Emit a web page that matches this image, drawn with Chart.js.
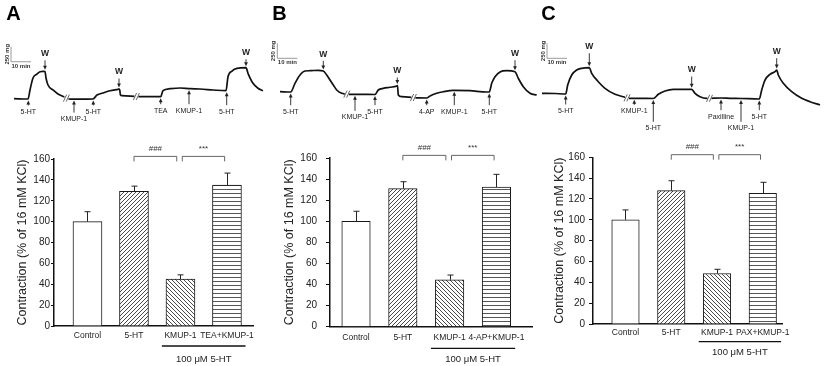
<!DOCTYPE html>
<html><head><meta charset="utf-8">
<script src="https://cdn.jsdelivr.net/npm/chart.js@4.4.1/dist/chart.umd.min.js"></script>
<style>
html,body{margin:0;padding:0;background:#fff;}
#wrap{position:relative;width:825px;height:366px;overflow:hidden;background:#fff;}
canvas{position:absolute;}
</style></head><body>
<div id="wrap">
<canvas id="tA" width="270" height="140" style="left:0;top:0"></canvas>
<canvas id="tB" width="270" height="140" style="left:270px;top:0"></canvas>
<canvas id="tC" width="285" height="140" style="left:540px;top:0"></canvas>
<canvas id="bA" width="270" height="226" style="left:0;top:140px"></canvas>
<canvas id="bB" width="270" height="226" style="left:270px;top:140px"></canvas>
<canvas id="bC" width="285" height="226" style="left:540px;top:140px"></canvas>
</div>
<script>
// ---------------- DATA ----------------
// Bar charts (contraction, % of 16 mM KCl; mean and SEM)
const categoriesA = ['Control', '5-HT', 'KMUP-1', 'TEA+KMUP-1'];
const categoriesB = ['Control', '5-HT', 'KMUP-1', '4-AP+KMUP-1'];
const categoriesC = ['Control', '5-HT', 'KMUP-1', 'PAX+KMUP-1'];
const contractionA = [100, 129, 45, 135];
const contractionB = [100, 131, 44.5, 132.5];
const contractionC = [100, 128, 48.5, 125.5];
const semA = [9.5, 5, 4, 11.5];
const semB = [9.5, 6.5, 4.5, 12];
const semC = [9.5, 9.5, 4, 10.5];
const yTicks = [0, 20, 40, 60, 80, 100, 120, 140, 160];
const yTitle = 'Contraction (% of 16 mM KCl)';
const groupLabel = '100 \u03bcM 5-HT';
const sigLabels = ['###', '***'];

// Tension traces (time in min, tension in mg; null = break in recording)
const traceA_time = [7,14,15,16.5,18.5,20,21.5,22.5,23,24,26.5,29,32.5,33.2,33.75,40,46.5,48.5,51.5,55,59,59.75,60.25,61,67.5,68.2,69,75,80.35,81.5,85,90,95,100,106.5,113,114,116,118.5,123,124,126.5,129,131.5];
const traceA_mg   = [522,517,667,867,933,972,978,975,867,750,667,600,545,null,517,513,517,583,617,655,678,683,583,572,562,null,555,555,555,655,688,700,688,683,667,655,888,983,1028,1038,945,778,695,655];
const traceB_time = [5,10.35,12.5,15,17.5,20,24,26.65,28.35,30,31.65,33.35,35.85,37.75,38.4,39,45,52.5,54.15,56.65,60,63.35,63.75,64.15,65.85,71,71.7,72.5,78.35,80,83.35,86.65,91.65,100,108.35,109.65,110.85,112.5,115,118.35,122.5,124.15,126.65,130,133.35];
const traceB_mg   = [638,633,778,917,983,988,995,983,917,833,750,667,612,600,null,595,595,592,667,695,712,733,742,583,555,545,null,537,533,567,612,638,662,655,633,633,778,888,967,988,972,862,722,612,583];
const traceC_time = [1,7.5,12.85,13.85,15.85,18.35,20.85,24.65,25.85,29.15,32.5,37.5,41.65,43,43.5,44,50,56.65,59.15,62.5,66.65,72.5,75.85,77.5,80,83.35,84,84.75,85.5,90.5,95,100.5,109.65,110.85,112.5,115,117.5,118.35,119.15,121.65,125.85,130.85,135,140];
const traceC_mg   = [612,608,600,750,917,1000,1028,1038,945,805,695,595,555,542,null,528,528,525,595,650,678,678,678,612,555,528,528,null,528,533,528,525,517,667,833,928,972,1000,917,778,638,528,472,417];

// Drug additions / washes (time in min)
const eventsA_time  = [14.15, 22.5, 37, 46.65, 59.5, 80.35, 94.5, 113.35, 123];
const eventsA_label = ['5-HT','W','KMUP-1','5-HT','W','TEA','KMUP-1','5-HT','W'];
const eventsB_time  = [10.35, 26.65, 42.5, 52.5, 63.65, 78.35, 92.15, 109.65, 122.5];
const eventsB_label = ['5-HT','W','KMUP-1','5-HT','W','4-AP','KMUP-1','5-HT','W'];
const eventsC_time  = [12.85, 24.65, 47.15, 56.65, 75.85, 90.5, 100.5, 109.65, 118.35];
const eventsC_label = ['5-HT','W','KMUP-1','5-HT','W','Paxilline','KMUP-1','5-HT','W'];
const breaksA = [33.2, 68.2];
const breaksB = [38.4, 71.7];
const breaksC = [43.5, 84.75];
const scaleBarMin = 10, scaleBarMg = 250;

// ---------------- STYLE / LAYOUT ----------------
const FONT = "'Liberation Sans', Arial, Helvetica, sans-serif";
Chart.defaults.font.family = FONT;
const arrowLenA = [5, 9.5, 12, 5, 9, 6, 14, 13, 7];
const arrowLenB = [11.7, 8.7, 15, 9.2, 6.5, 5.7, 13.4, 11.7, 10];
const arrowLenC = [9, 13, 5, 21.8, 11.3, 10.7, 21.8, 9.7, 10.3];

function drawArrow(ctx, x, y0, y1) {
  const s = Math.sign(y1 - y0) || 1;
  ctx.strokeStyle = '#222'; ctx.fillStyle = '#222'; ctx.lineWidth = 0.9;
  ctx.beginPath(); ctx.moveTo(x, y0); ctx.lineTo(x, y1 - s * 3); ctx.stroke();
  ctx.beginPath(); ctx.moveTo(x, y1); ctx.lineTo(x - 1.9, y1 - s * 4); ctx.lineTo(x + 1.9, y1 - s * 4); ctx.closePath(); ctx.fill();
}
function traceYPix(chart, t, mode) {
  const ys = chart.scales.y, d = chart.data.datasets[0].data;
  let best = null;
  const consider = v => { const p = ys.getPixelForValue(v); if (best === null || (mode === 'below' ? p > best : p < best)) best = p; };
  for (let i = 0; i < d.length; i++) if (d[i].y != null && Math.abs(d[i].x - t) <= 1) consider(d[i].y);
  for (let i = 0; i < d.length - 1; i++) {
    const a = d[i], b = d[i + 1];
    if (a.y != null && b.y != null && a.x <= t && b.x >= t) consider(a.y + (b.y - a.y) * ((t - a.x) / ((b.x - a.x) || 1)));
  }
  return best;
}
function breakYPix(chart, t) {
  const ys = chart.scales.y, d = chart.data.datasets[0].data;
  for (let i = 1; i < d.length - 1; i++) if (d[i].y == null && d[i].x === t) return ys.getPixelForValue((d[i - 1].y + d[i + 1].y) / 2);
  return 0;
}

function traceChart(id, times, mg, evT, evL, lens, breaks, sb, letter, L) {
  const plugin = {
    id: 'traceAnnot' + letter,
    afterDatasetsDraw(chart) {
      const ctx = chart.ctx, xs = chart.scales.x, ys = chart.scales.y;
      ctx.save();
      // break marks
      ctx.strokeStyle = '#555'; ctx.lineWidth = 0.9;
      breaks.forEach(t => {
        const x = xs.getPixelForValue(t), y = breakYPix(chart, t);
        ctx.fillStyle = '#fff'; ctx.fillRect(x - 2, y - 2, 4, 4);
        [-1.4, 1.4].forEach(dx => { ctx.beginPath(); ctx.moveTo(x + dx - 1.6, y + 3.5); ctx.lineTo(x + dx + 1.6, y - 3.5); ctx.stroke(); });
      });
      // events
      evT.forEach((t, i) => {
        const lab = evL[i], isW = lab === 'W', x = xs.getPixelForValue(t);
        const ty = traceYPix(chart, t, isW ? 'above' : 'below');
        let tip, tail, ly;
        if (isW) { tip = ty - 1.5; tail = tip - lens[i]; ly = tail - 6.5; }
        else { tip = ty + 1.5; tail = tip + lens[i]; ly = tail + 6.5; }
        drawArrow(ctx, x, tail, tip);
        ctx.fillStyle = '#222'; ctx.textAlign = 'center'; ctx.textBaseline = 'middle';
        ctx.font = isW ? 'bold 8.5px ' + FONT : '7px ' + FONT;
        ctx.fillText(lab, x, ly);
      });
      // scale bar
      const x0 = xs.getPixelForValue(sb.t), x1 = xs.getPixelForValue(sb.t + scaleBarMin);
      const yb = ys.getPixelForValue(sb.mg), yt = ys.getPixelForValue(sb.mg + scaleBarMg);
      ctx.strokeStyle = '#9a9a9a'; ctx.lineWidth = 1;
      ctx.beginPath(); ctx.moveTo(x0, yt); ctx.lineTo(x0, yb); ctx.lineTo(x1, yb); ctx.stroke();
      ctx.fillStyle = '#333'; ctx.font = 'bold 6px ' + FONT;
      ctx.textAlign = 'center'; ctx.textBaseline = 'top';
      ctx.fillText(scaleBarMin + ' min', (x0 + x1) / 2, yb + 1.5);
      ctx.save(); ctx.translate(x0 - 4, (yt + yb) / 2); ctx.rotate(-Math.PI / 2);
      ctx.textBaseline = 'middle'; ctx.fillText(scaleBarMg + ' mg', 0, 0); ctx.restore();
      // panel letter
      ctx.fillStyle = '#000'; ctx.font = 'bold 20px ' + FONT; ctx.textAlign = 'center'; ctx.textBaseline = 'middle';
      ctx.fillText(letter, L.letterX, L.letterY);
      ctx.restore();
    }
  };
  new Chart(document.getElementById(id), {
    type: 'line',
    data: { datasets: [{ data: times.map((t, i) => ({ x: t, y: mg[i] })), borderColor: '#111', borderWidth: 1.7,
      pointRadius: 0, cubicInterpolationMode: 'monotone', spanGaps: false, fill: false }] },
    options: {
      responsive: false, animation: false, devicePixelRatio: 1,
      layout: { padding: 0 },
      plugins: { legend: { display: false }, tooltip: { enabled: false } },
      scales: {
        x: { type: 'linear', display: false, min: 0, max: L.tMax },
        y: { type: 'linear', display: false, min: -166.67, max: 2166.67 }
      }
    },
    plugins: [plugin]
  });
}

function pattern(kind) {
  const c = document.createElement('canvas');
  const s = 4; c.width = s; c.height = s;
  const g = c.getContext('2d');
  g.fillStyle = '#fff'; g.fillRect(0, 0, s, s);
  g.strokeStyle = '#2a2a2a'; g.lineWidth = 0.85;
  g.beginPath();
  if (kind === 'fwd') {
    g.moveTo(-1, s + 1); g.lineTo(s + 1, -1);
    g.moveTo(-1, 1); g.lineTo(1, -1);
    g.moveTo(s - 1, s + 1); g.lineTo(s + 1, s - 1);
  } else if (kind === 'back') {
    g.moveTo(-1, -1); g.lineTo(s + 1, s + 1);
    g.moveTo(s - 1, -1); g.lineTo(s + 1, 1);
    g.moveTo(-1, s - 1); g.lineTo(1, s + 1);
  } else {
    g.strokeStyle = '#444'; g.lineWidth = 0.9;
    g.moveTo(0, 1.5); g.lineTo(s, 1.5);
  }
  g.stroke();
  return g.createPattern(c, 'repeat');
}

function barChart(id, cats, vals, errs, L) {
  const fills = ['#ffffff', pattern('fwd'), pattern('back'), pattern('horiz')];
  const plugin = {
    id: 'barAnnot' + id,
    afterDatasetsDraw(chart) {
      const ctx = chart.ctx, xs = chart.scales.x, ys = chart.scales.y;
      ctx.save();
      // error bars
      ctx.strokeStyle = '#222'; ctx.lineWidth = 1;
      vals.forEach((v, i) => {
        const x = Math.round(xs.getPixelForValue(i)) + 0.5;
        const y0 = ys.getPixelForValue(v), y1 = ys.getPixelForValue(v + errs[i]);
        ctx.beginPath(); ctx.moveTo(x, y0); ctx.lineTo(x, y1);
        ctx.moveTo(x - 3, y1); ctx.lineTo(x + 3, y1); ctx.stroke();
      });
      // significance brackets
      const brackets = [[1, 1.92], [2.04, 2.95]];
      const by = ys.getPixelForValue(162.5);
      ctx.strokeStyle = '#555'; ctx.lineWidth = 0.9;
      brackets.forEach((b, k) => {
        const xa = xs.getPixelForValue(b[0]), xb = xs.getPixelForValue(b[1]);
        ctx.beginPath(); ctx.moveTo(xa, by + 5); ctx.lineTo(xa, by); ctx.lineTo(xb, by); ctx.lineTo(xb, by + 5); ctx.stroke();
        ctx.fillStyle = '#333'; ctx.font = '8px ' + FONT; ctx.textAlign = 'center'; ctx.textBaseline = 'middle';
        ctx.fillText(sigLabels[k], (xa + xb) / 2, by - 8);
      });
      // group underline and label
      const ua = xs.getPixelForValue(1.6), ub = xs.getPixelForValue(3.4);
      const bottom = chart.chartArea.bottom;
      ctx.strokeStyle = '#111'; ctx.lineWidth = 1.3;
      ctx.beginPath(); ctx.moveTo(ua, bottom + L.underY); ctx.lineTo(ub, bottom + L.underY); ctx.stroke();
      ctx.fillStyle = '#222'; ctx.font = '9.5px ' + FONT; ctx.textAlign = 'center'; ctx.textBaseline = 'middle';
      ctx.fillText(groupLabel, (ua + ub) / 2, bottom + L.groupY);
      ctx.restore();
    }
  };
  new Chart(document.getElementById(id), {
    type: 'bar',
    data: { datasets: [{ data: vals.map((v, i) => ({ x: i, y: v })), backgroundColor: fills,
      borderColor: '#1a1a1a', borderWidth: 1, barThickness: L.barW }] },
    options: {
      responsive: false, animation: false, devicePixelRatio: 1,
      layout: { padding: { top: L.padTop, right: L.padRight, left: 0, bottom: 0 } },
      plugins: { legend: { display: false }, tooltip: { enabled: false } },
      scales: {
        x: {
          type: 'linear', offset: false, min: L.xMin, max: L.xMax,
          grid: { display: false, drawTicks: false, tickLength: 0 },
          border: { display: true, color: '#111', width: 1.5 },
          afterBuildTicks: s => { s.ticks = cats.map((c, i) => ({ value: i })); },
          afterFit: s => { s.height = L.xAxisH; },
          ticks: { callback: v => cats[v], font: { size: 8.5 }, color: '#222', padding: L.xPad, maxRotation: 0, autoSkip: false }
        },
        y: {
          type: 'linear', min: 0, max: 160,
          afterBuildTicks: s => { s.ticks = yTicks.map(v => ({ value: v })); },
          afterFit: s => { s.width = L.yAxisW; },
          ticks: { font: { size: 10 }, color: '#222', padding: L.yPad },
          grid: { drawOnChartArea: false, drawTicks: true, tickLength: L.tickLen, color: '#111', lineWidth: 1 },
          border: { display: true, color: '#111', width: 1.5 },
          title: { display: true, text: yTitle, font: { size: 12.5 }, color: '#222', padding: { top: L.titlePad, bottom: 0 } }
        }
      }
    },
    plugins: [plugin]
  });
}

traceChart('tA', traceA_time, traceA_mg, eventsA_time, eventsA_label, arrowLenA, breaksA, { t: 5.5, mg: 1138 }, 'A', { tMax: 135, letterX: 13.5, letterY: 14 });
traceChart('tB', traceB_time, traceB_mg, eventsB_time, eventsB_label, arrowLenB, breaksB, { t: 3.65, mg: 1195 }, 'B', { tMax: 135, letterX: 9.5, letterY: 14 });
traceChart('tC', traceC_time, traceC_mg, eventsC_time, eventsC_label, arrowLenC, breaksC, { t: 3.5, mg: 1195 }, 'C', { tMax: 142.5, letterX: 8.5, letterY: 14 });

barChart('bA', categoriesA, contractionA, semA, { yAxisW: 54, tickLen: 3, yPad: 1, titlePad: 15, padTop: 19, padRight: 17, xAxisH: 40, xMin: -0.72, xMax: 3.56, barW: 29, xPad: 5, underY: 20, groupY: 33 });
barChart('bB', categoriesB, contractionB, semB, { yAxisW: 60, tickLen: 4, yPad: 9, titlePad: 12.5, padTop: 18, padRight: 8, xAxisH: 39.3, xMin: -0.556, xMax: 3.76, barW: 28.5, xPad: 5.5, underY: 21.6, groupY: 32.3 });
barChart('bC', categoriesC, contractionC, semC, { yAxisW: 53, tickLen: 4, yPad: 4, titlePad: 12.5, padTop: 17.3, padRight: 43, xAxisH: 42, xMin: -0.71, xMax: 3.42, barW: 27.5, xPad: 3.5, underY: 17.7, groupY: 28.7 });
</script>
</body></html>
